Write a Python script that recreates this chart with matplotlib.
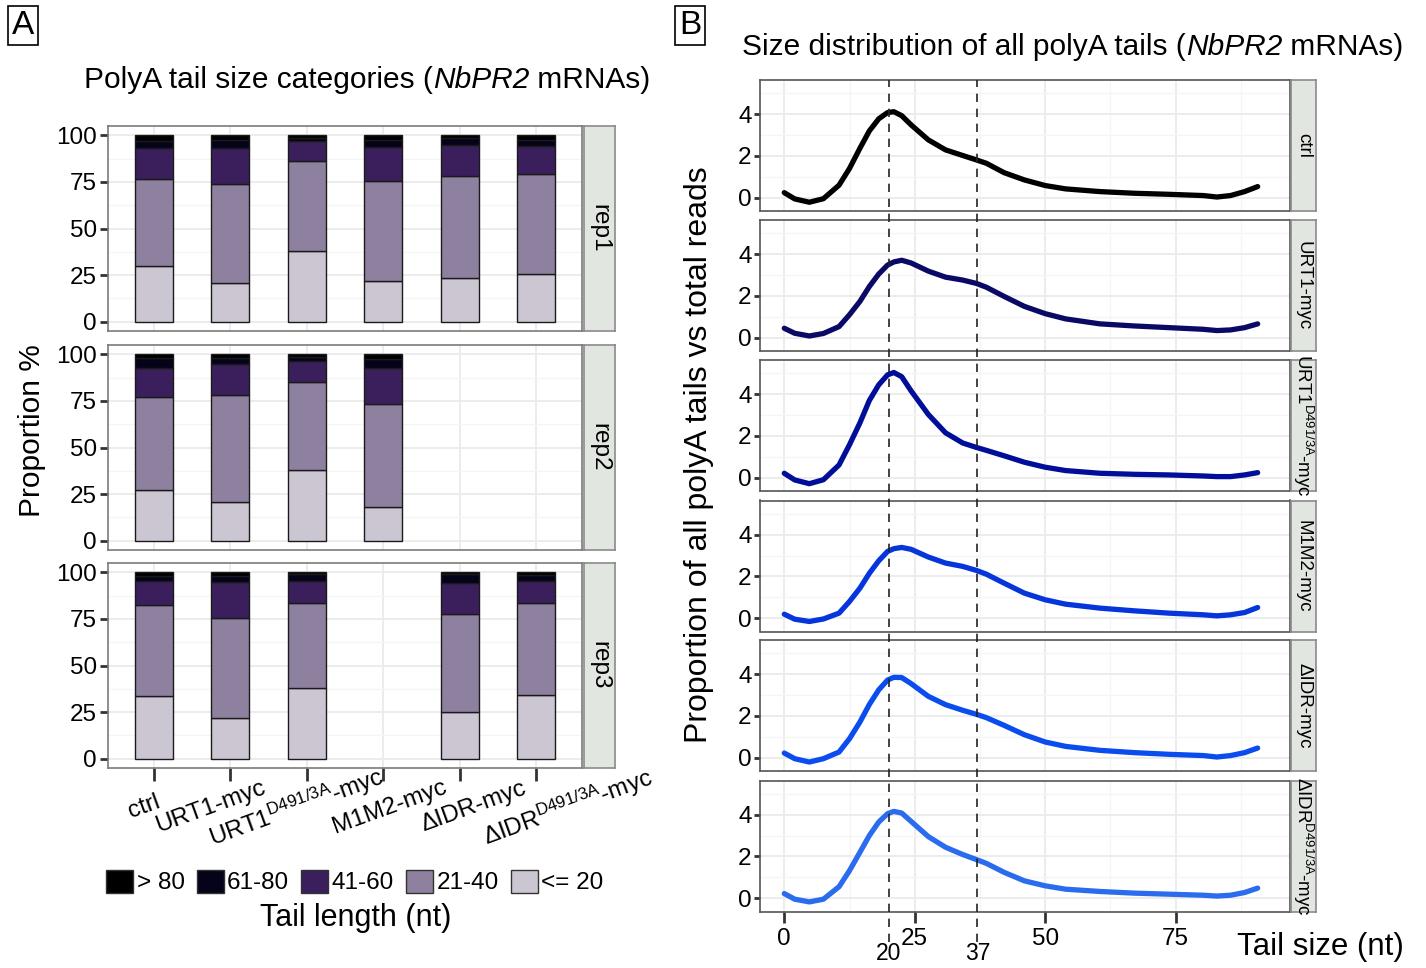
import numpy as np
import matplotlib
matplotlib.use("Agg")
import matplotlib.pyplot as plt
from matplotlib.patches import Patch
from matplotlib.transforms import ScaledTranslation

plt.rcParams['font.family'] = ['Liberation Sans', 'DejaVu Sans']
plt.rcParams['mathtext.fontset'] = 'custom'
plt.rcParams['mathtext.rm'] = 'Liberation Sans'
plt.rcParams['mathtext.it'] = 'Liberation Sans:italic'

# ---------------- data: tail size categories (%) ----------------
genotypes = ["ctrl", "URT1-myc", r"URT1$^{\mathregular{D491/3A}}$-myc", "M1M2-myc",
             "ΔIDR-myc", r"ΔIDR$^{\mathregular{D491/3A}}$-myc"]
replicates = ["rep1", "rep2", "rep3"]
size_classes = ["<= 20", "21-40", "41-60", "61-80", "> 80"]
class_colors = ["#CCC6D3", "#8E809F", "#3A1F5C", "#04031A", "#000000"]

# per replicate, rows = genotypes, values for each size class (NaN = not sequenced)
nan = np.nan
rep1_pct = [[30.0, 46.8, 16.5, 3.7, 3.0],
            [20.9, 52.9, 19.2, 4.7, 2.3],
            [38.0, 48.0, 10.8, 1.95, 1.25],
            [21.6, 54.0, 18.0, 4.1, 2.3],
            [23.5, 54.9, 16.4, 3.6, 1.6],
            [25.7, 53.6, 15.2, 3.0, 2.5]]
rep2_pct = [[27.0, 50.3, 15.5, 5.2, 2.0],
            [20.8, 57.4, 16.4, 3.3, 2.1],
            [37.7, 47.6, 10.9, 2.3, 1.5],
            [18.1, 55.3, 19.0, 5.3, 2.3],
            [nan, nan, nan, nan, nan],
            [nan, nan, nan, nan, nan]]
rep3_pct = [[33.9, 48.7, 12.8, 2.8, 1.8],
            [22.0, 53.4, 19.2, 3.6, 1.8],
            [37.8, 45.5, 12.1, 3.6, 1.0],
            [nan, nan, nan, nan, nan],
            [25.2, 52.5, 16.6, 4.6, 1.1],
            [34.2, 49.1, 11.9, 3.2, 1.6]]
rep_tables = [rep1_pct, rep2_pct, rep3_pct]

# ---------------- data: tail size distributions ----------------
tail_x = [0, 2, 4.8, 7.5, 10.5, 12.5, 14.5, 16.3, 18.1, 19.8, 21, 22.5, 24.3, 27.6,
          30.9, 34.2, 36.8, 38.7, 42.1, 46, 50, 53.9, 60.5, 67.1, 73.7, 80.3,
          82.9, 85.5, 88.2, 90.7]
dist_ctrl = [0.24, -0.06, -0.22, -0.05, 0.60, 1.40, 2.37, 3.20, 3.78, 4.08, 4.12, 3.93,
             3.49, 2.77, 2.29, 2.02, 1.81, 1.65, 1.20, 0.85, 0.58, 0.42, 0.29, 0.21,
             0.16, 0.10, 0.03, 0.10, 0.29, 0.53]
dist_urt1 = [0.45, 0.21, 0.08, 0.20, 0.53, 1.10, 1.74, 2.45, 3.05, 3.48, 3.63, 3.71,
             3.58, 3.19, 2.90, 2.76, 2.60, 2.42, 1.98, 1.50, 1.15, 0.90, 0.66, 0.56,
             0.48, 0.40, 0.34, 0.37, 0.48, 0.66]
dist_urt1_d491 = [0.21, -0.11, -0.29, -0.10, 0.61, 1.58, 2.63, 3.70, 4.45, 4.93, 5.04,
                  4.84, 4.16, 3.03, 2.15, 1.66, 1.45, 1.31, 1.05, 0.74, 0.50, 0.34,
                  0.21, 0.16, 0.13, 0.08, 0.05, 0.05, 0.13, 0.24]
dist_m1m2 = [0.19, -0.05, -0.16, -0.04, 0.24, 0.80, 1.44, 2.15, 2.75, 3.20, 3.33, 3.39,
             3.30, 2.93, 2.64, 2.48, 2.29, 2.11, 1.68, 1.20, 0.88, 0.67, 0.48, 0.35,
             0.24, 0.16, 0.11, 0.16, 0.27, 0.51]
dist_didr = [0.22, -0.05, -0.21, -0.05, 0.27, 0.91, 1.71, 2.55, 3.25, 3.72, 3.85, 3.84,
             3.55, 2.94, 2.54, 2.27, 2.08, 1.92, 1.55, 1.10, 0.75, 0.54, 0.35, 0.24,
             0.16, 0.10, 0.03, 0.10, 0.24, 0.46]
dist_didr_d491 = [0.22, -0.05, -0.18, -0.05, 0.55, 1.32, 2.20, 3.00, 3.65, 4.05, 4.16,
                  4.08, 3.68, 2.95, 2.44, 2.09, 1.85, 1.67, 1.24, 0.83, 0.59, 0.43,
                  0.32, 0.24, 0.19, 0.14, 0.10, 0.14, 0.27, 0.48]
distributions = [dist_ctrl, dist_urt1, dist_urt1_d491, dist_m1m2, dist_didr, dist_didr_d491]
line_colors = ["#000000", "#0A0A66", "#000E99", "#0535DB", "#0A4CEE", "#2B6CEE"]
marked_sizes = [20, 37]

# ---------------- figure ----------------
W, H = 1426, 968
fig = plt.figure(figsize=(W / 100, H / 100), dpi=100)
renderer = fig.canvas.get_renderer()


def fr(x0, y0, x1, y1):
    return [x0 / W, 1 - y1 / H, (x1 - x0) / W, (y1 - y0) / H]


def mixed_text(cx, cy, parts, size):
    """Centred line of text made of (string, style) runs."""
    items = []
    for s, st in parts:
        t = fig.text(0, 1 - cy / H, s, fontsize=size, style=st, ha="left", va="center")
        items.append((t, t.get_window_extent(renderer).width))
    total = sum(w for _, w in items)
    x = cx - total / 2
    for t, w in items:
        t.set_x(x / W)
        x += w


GRID_MAJ = "#EBEBEB"
GRID_MIN = "#F5F5F5"
FRAME = "#7A7A7A"
STRIP_BG = "#E2E6E0"


def style_frame(ax, color=FRAME, lw=1.2):
    for s in ax.spines.values():
        s.set_color(color)
        s.set_linewidth(lw)


def add_strip(rect, label, size, rot=270):
    sax = fig.add_axes(rect)
    sax.set_facecolor(STRIP_BG)
    sax.set_xticks([])
    sax.set_yticks([])
    style_frame(sax, "#8A8A8A", 1.2)
    sax.text(0.5, 0.5, label, rotation=rot, ha="center", va="center",
             fontsize=size, transform=sax.transAxes)
    return sax


# ----- panel A -----
xpos = np.arange(1, len(genotypes) + 1)
a_tops = [126, 345, 563]
a_axes = []
for r, (rep, table) in enumerate(zip(replicates, rep_tables)):
    top = a_tops[r]
    ax = fig.add_axes(fr(108, top, 582, top + 205))
    a_axes.append(ax)
    tab = np.array(table, dtype=float)
    bottom = np.zeros(len(genotypes))
    for k in range(len(size_classes)):
        vals = tab[:, k]
        ok = ~np.isnan(vals)
        ax.bar(xpos[ok], vals[ok], bottom=bottom[ok], width=0.5, color=class_colors[k],
               edgecolor="#1A1A1A", linewidth=1.0, zorder=3)
        bottom[ok] += vals[ok]
    ax.set_xlim(0.4, 6.6)
    ax.set_ylim(-5, 105)
    ax.set_yticks([0, 25, 50, 75, 100])
    ax.set_yticks([12.5, 37.5, 62.5, 87.5], minor=True)
    ax.set_xticks(xpos)
    ax.grid(True, which="major", color=GRID_MAJ, lw=1.3, zorder=0)
    ax.grid(True, which="minor", axis="y", color=GRID_MIN, lw=1.0, zorder=0)
    ax.set_axisbelow(True)
    ax.tick_params(axis="y", which="major", labelsize=17.5, length=6, width=2,
                   color="#333333", pad=2)
    ax.tick_params(axis="y", which="minor", length=0)
    if r < 2:
        ax.tick_params(axis="x", length=0, labelbottom=False)
    else:
        ax.tick_params(axis="x", length=9, width=2, color="#333333", labelbottom=False)
    style_frame(ax)
    add_strip(fr(584, top, 615, top + 205), rep, 17.5)

# rotated genotype labels under the bottom panel
label_shift = [-10, -20, -10, 6, 14, 32]
axb = a_axes[-1]
for i, (g, dx) in enumerate(zip(genotypes, label_shift)):
    t = axb.get_xaxis_transform() + ScaledTranslation(dx / 100, 0, fig.dpi_scale_trans)
    axb.text(xpos[i], -0.19, g, rotation=20, rotation_mode="anchor", ha="center",
             va="center", fontsize=17.5, transform=t)

mixed_text(367, 80, [("PolyA tail size categories (", "normal"), ("NbPR2", "italic"),
                     (" mRNAs)", "normal")], 21.5)
fig.text(32 / W, 1 - 431 / H, "Proportion %", rotation=90, ha="center", va="center",
         fontsize=21.5)

handles = [Patch(facecolor=class_colors[k], edgecolor="#333333", linewidth=1.0,
                 label=size_classes[k]) for k in range(len(size_classes) - 1, -1, -1)]
fig.legend(handles=handles, loc="center", bbox_to_anchor=(355 / W, 1 - 882 / H), ncol=5,
           frameon=False, fontsize=17.5, handlelength=1.1, handleheight=1.1,
           handletextpad=0.15, columnspacing=0.5, borderpad=0)
fig.text(356 / W, 1 - 918 / H, "Tail length (nt)", ha="center", va="center", fontsize=22)

# ----- panel B -----
b_tops = [80, 220, 360, 500.5, 640, 780.5]
b_xlim = (-4.65, 96.9)
b_ylim = (-0.64, 5.64)
b_axes = []
for i, (g, vals, col) in enumerate(zip(genotypes, distributions, line_colors)):
    top = b_tops[i]
    ax = fig.add_axes(fr(760, top, 1290, top + 131))
    b_axes.append(ax)
    ax.plot(tail_x, vals, color=col, lw=3.8, solid_capstyle="round",
            solid_joinstyle="round", zorder=3)
    ax.set_xlim(*b_xlim)
    ax.set_ylim(*b_ylim)
    ax.set_xticks([0, 25, 50, 75])
    ax.set_xticks([12.5, 37.5, 62.5, 87.5], minor=True)
    ax.set_yticks([0, 2, 4])
    ax.set_yticks([1, 3, 5], minor=True)
    ax.grid(True, which="major", color=GRID_MAJ, lw=1.3, zorder=0)
    ax.grid(True, which="minor", color=GRID_MIN, lw=1.0, zorder=0)
    ax.set_axisbelow(True)
    ax.tick_params(axis="y", which="major", labelsize=17.5, length=4, width=2,
                   color="#333333", pad=2)
    ax.tick_params(which="minor", length=0)
    if i < len(genotypes) - 1:
        ax.tick_params(axis="x", length=0, labelbottom=False)
    else:
        ax.tick_params(axis="x", which="major", labelsize=17.5, length=8, width=2,
                       color="#333333", pad=4)
    style_frame(ax, "#555555", 1.2)
    add_strip(fr(1291, top, 1316, top + 131), g, 13.5)

# reference tail sizes drawn across all distribution panels
ov = fig.add_axes(fr(760, 80, 1290, 942))
ov.set_xlim(*b_xlim)
ov.set_ylim(0, 1)
ov.axis("off")
ov.patch.set_alpha(0)
for xs in marked_sizes:
    ov.axvline(xs, color="#222222", lw=1.2, ls=(0, (5, 4)), zorder=10)
    ov.text(xs, 0, str(xs), ha="center", va="center", fontsize=16.5,
            transform=ov.get_xaxis_transform() + ScaledTranslation(0, -0.12, fig.dpi_scale_trans))

mixed_text(1073, 47, [("Size distribution of all polyA tails (", "normal"), ("NbPR2", "italic"),
                      (" mRNAs)", "normal")], 21.5)
fig.text(699 / W, 1 - 455 / H, "Proportion of all polyA tails vs total reads", rotation=90,
         ha="center", va="center", fontsize=23)
fig.text(1320 / W, 1 - 947 / H, "Tail size (nt)", ha="center", va="center", fontsize=22.5)

# panel letters
box = dict(boxstyle="square,pad=0.12", facecolor="white", edgecolor="black", linewidth=1.2)
fig.text(23 / W, 1 - 25 / H, "A", ha="center", va="center", fontsize=24, bbox=box)
fig.text(690 / W, 1 - 25 / H, "B", ha="center", va="center", fontsize=24, bbox=box)

fig.savefig("out.png", dpi=100)
